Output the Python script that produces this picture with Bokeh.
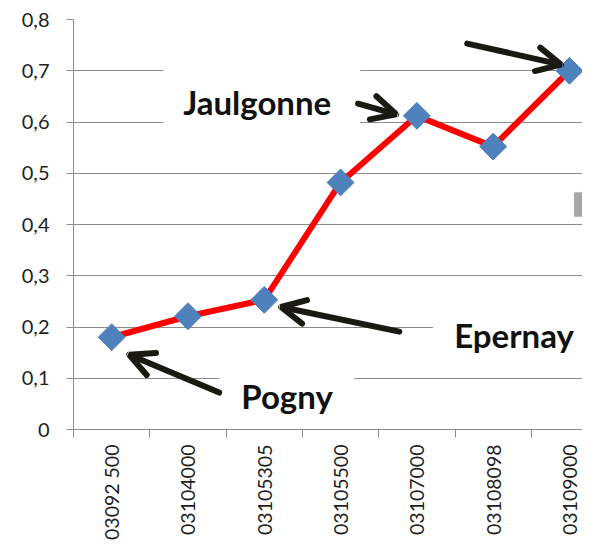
import numpy as np
from bokeh.plotting import figure
from bokeh.models import (FixedTicker, Label, Arrow, OpenHead, BoxAnnotation,
                          ColumnDataSource)
from bokeh.embed import file_html
from bokeh.resources import INLINE

# ---- data ----
stations = ["03092 500", "03104000", "03105305", "03105500",
            "03107000", "03108098", "03109000"]
values = [0.18, 0.221, 0.253, 0.482, 0.612, 0.552, 0.70]
y_ticks = [0.0, 0.1, 0.2, 0.3, 0.4, 0.5, 0.6, 0.7, 0.8]
y_tick_labels = ["0", "0,1", "0,2", "0,3", "0,4", "0,5", "0,6", "0,7", "0,8"]

FONT = "Lato"
GRID = "#8c8c8c"

xs = list(range(len(stations)))
src = ColumnDataSource(dict(x=xs, y=values))

p = figure(width=582, height=542, output_backend="svg", toolbar_location=None,
           x_range=(-0.5, 6.171), y_range=(0, 0.8),
           min_border_left=73, min_border_right=0, min_border_top=19,
           min_border_bottom=112)
p.outline_line_color = None
p.background_fill_color = "white"

# axes
p.xaxis.ticker = FixedTicker(ticks=xs, minor_ticks=[i - 0.5 for i in xs])
p.xaxis.major_label_overrides = {i: s for i, s in zip(xs, stations)}
p.xaxis.major_label_orientation = np.pi / 2
p.xaxis.major_tick_out = 0
p.xaxis.major_tick_in = 0
p.xaxis.minor_tick_out = 8
p.xaxis.minor_tick_in = 0
p.xaxis.minor_tick_line_color = GRID
p.xaxis.axis_line_color = GRID
p.xaxis.major_label_standoff = 7
p.xaxis.major_label_text_font = FONT
p.xaxis.major_label_text_font_size = "19.5px"
p.xaxis.major_label_text_color = "#1e1e1e"

p.yaxis.ticker = FixedTicker(ticks=y_ticks)
p.yaxis.major_label_overrides = {t: s for t, s in zip(y_ticks, y_tick_labels)}
p.yaxis.major_tick_out = 7
p.yaxis.major_tick_in = 0
p.yaxis.minor_tick_line_color = None
p.yaxis.major_tick_line_color = GRID
p.yaxis.axis_line_color = GRID
p.yaxis.major_label_standoff = 17
p.yaxis.major_label_text_font = FONT
p.yaxis.major_label_text_font_size = "20px"
p.yaxis.major_label_text_color = "#1e1e1e"

p.xgrid.grid_line_color = None
p.ygrid.ticker = FixedTicker(ticks=y_ticks)
p.ygrid.grid_line_color = GRID
p.ygrid.grid_line_width = 1

# white boxes behind the annotation texts (they hide the gridlines)
boxes = [(0.675, 3.257, 0.564, 0.708),   # Jaulgonne
         (1.409, 3.179, 0.019, 0.121),   # Pogny
         (4.21, 6.30, 0.132, 0.230)]     # Epernay
for l, r, b, t in boxes:
    p.add_layout(BoxAnnotation(left=l, right=r, bottom=b, top=t,
                               fill_color="white", fill_alpha=1,
                               line_color=None, level="underlay"))

# series
p.line("x", "y", source=src, line_color="#FF0000", line_width=6)
p.scatter("x", "y", source=src, marker="square", size=19, angle=np.pi / 4,
          fill_color="#4F81BD", line_color="#4F81BD")

# annotation texts
labels = [("Jaulgonne", 0.937, 0.640), ("Pogny", 1.70, 0.066),
          ("Epernay", 4.49, 0.185)]
for txt, lx, ly in labels:
    p.add_layout(Label(x=lx, y=ly, text=txt, text_font=FONT,
                       text_font_style="bold", text_font_size="33px",
                       text_color="#111111", text_align="left",
                       text_baseline="alphabetic"))

# arrows
arrows = [((1.409, 0.072), (0.23, 0.146)),
          ((3.77, 0.191), (2.22, 0.239)),
          ((3.23, 0.636), (3.73, 0.615)),
          ((4.66, 0.753), (5.89, 0.712))]
for (x0, y0), (x1, y1) in arrows:
    p.add_layout(Arrow(x_start=x0, y_start=y0, x_end=x1, y_end=y1,
                       line_width=6, line_color="#1a1a12", line_cap="round",
                       end=OpenHead(size=24, line_width=6,
                                    line_color="#1a1a12", line_cap="round")))

# small grey artefact on the right
p.add_layout(BoxAnnotation(left=6.06, right=6.3, bottom=0.415, top=0.463,
                           fill_color="#a6a6a6", fill_alpha=1,
                           line_color="#c8c8c8"))

open("out.html", "w").write(file_html(p, INLINE))
